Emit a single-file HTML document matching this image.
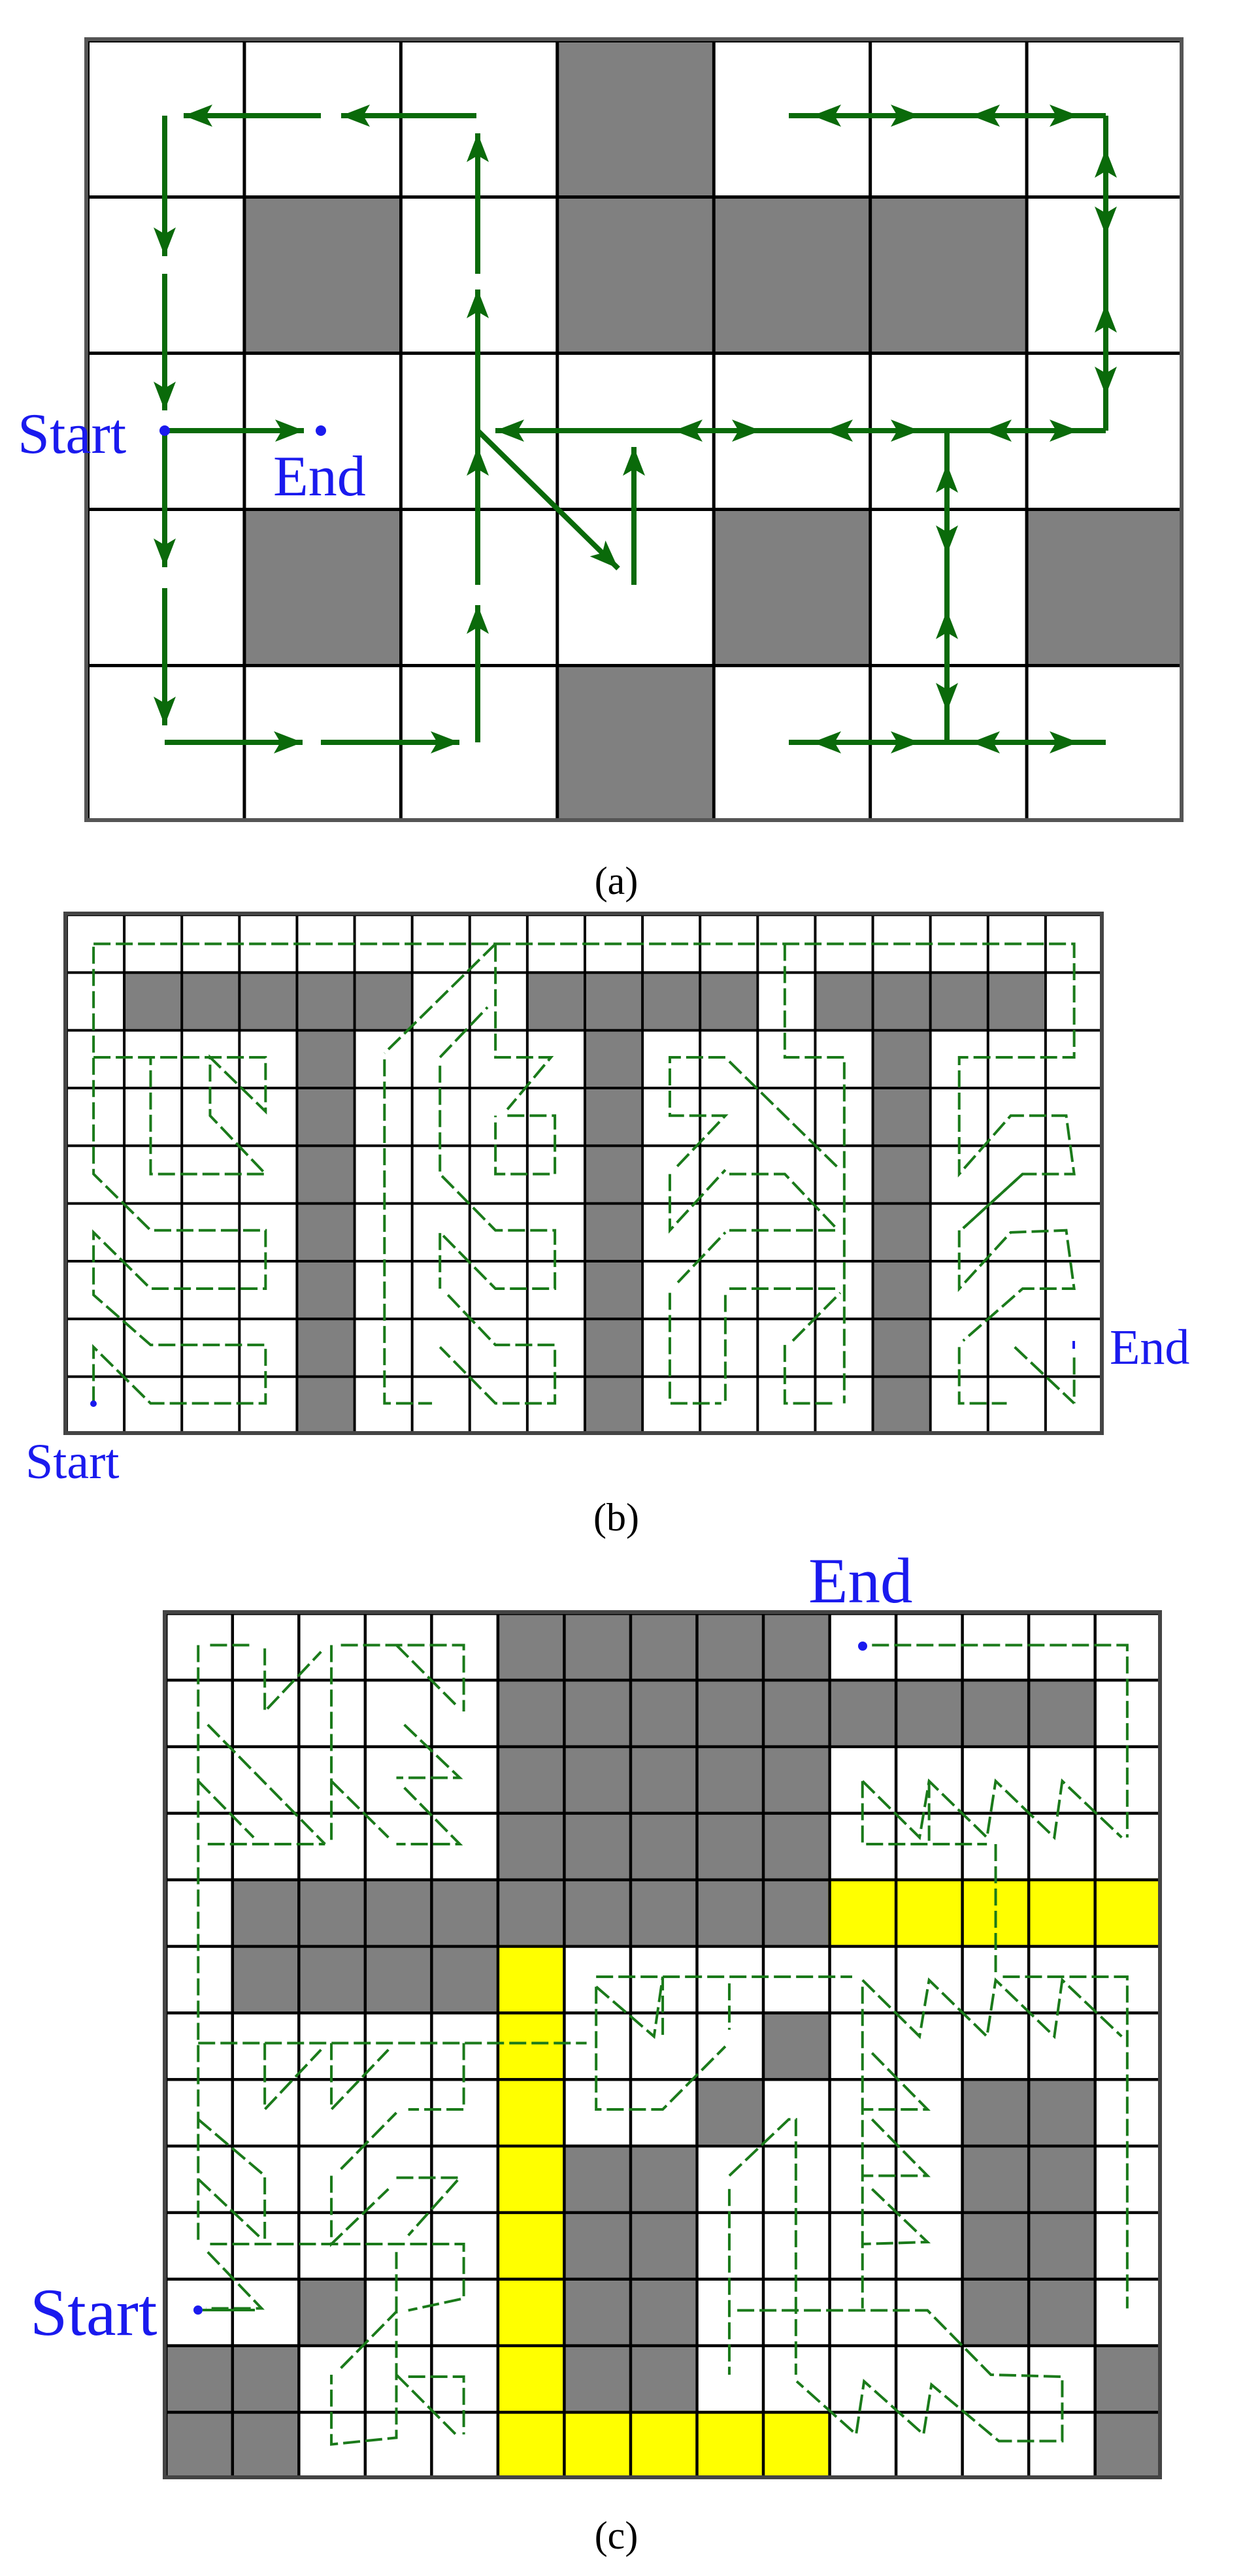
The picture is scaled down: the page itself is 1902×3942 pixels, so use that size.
<!DOCTYPE html>
<html><head><meta charset="utf-8"><style>
html,body{margin:0;padding:0;background:#fff}
svg{display:block}
text{font-family:"Liberation Serif",serif}
</style></head><body>
<svg width="1902" height="3942" viewBox="0 0 1902 3942" xmlns="http://www.w3.org/2000/svg">
<defs>
<pattern id="pa" patternUnits="userSpaceOnUse" x="132" y="60" width="239.43" height="239"><path d="M0,0H239.43M0,0V239" stroke="#000" stroke-width="10" fill="none"/></pattern>
<pattern id="pb" patternUnits="userSpaceOnUse" x="100" y="1398" width="88.11" height="88.33"><path d="M0,0H88.11M0,0V88.33" stroke="#000" stroke-width="8" fill="none"/></pattern>
<pattern id="pc" patternUnits="userSpaceOnUse" x="252" y="2467" width="101.53" height="101.85"><path d="M0,0H101.53M0,0V101.85" stroke="#000" stroke-width="9" fill="none"/></pattern>
<marker id="ah" markerUnits="userSpaceOnUse" markerWidth="50" markerHeight="40" refX="44" refY="17" orient="auto"><path d="M0,0 L44,17 L0,34 L10,17 Z" fill="#0a6a0a"/></marker>
</defs>

<!-- Panel A -->
<g fill="#808080">
<rect x="850.3" y="60" width="239.4" height="239"/>
<rect x="371.4" y="299" width="239.4" height="239"/>
<rect x="850.3" y="299" width="718.3" height="239"/>
<rect x="371.4" y="777" width="239.4" height="239"/>
<rect x="1089.7" y="777" width="239.4" height="239"/>
<rect x="1568.6" y="777" width="239.4" height="239"/>
<rect x="850.3" y="1016" width="239.4" height="239"/>
</g>
<rect x="132" y="60" width="1676" height="1195" fill="url(#pa)"/>
<rect x="132" y="60" width="1676" height="1195" fill="none" stroke="#555" stroke-width="6"/>
<g stroke="#0a6a0a" stroke-width="8" fill="none">
<line x1="729" y1="177" x2="522" y2="177" marker-end="url(#ah)"/>
<line x1="491" y1="177" x2="281" y2="177" marker-end="url(#ah)"/>
<line x1="252" y1="177" x2="252" y2="392" marker-end="url(#ah)"/>
<line x1="252" y1="419" x2="252" y2="628" marker-end="url(#ah)"/>
<line x1="252" y1="659" x2="252" y2="868" marker-end="url(#ah)"/>
<line x1="252" y1="900" x2="252" y2="1110" marker-end="url(#ah)"/>
<line x1="252" y1="659" x2="465" y2="659" marker-end="url(#ah)"/>
<line x1="252" y1="1136" x2="463" y2="1136" marker-end="url(#ah)"/>
<line x1="491" y1="1136" x2="703" y2="1136" marker-end="url(#ah)"/>
<line x1="731" y1="1136" x2="731" y2="926" marker-end="url(#ah)"/>
<line x1="731" y1="895" x2="731" y2="684" marker-end="url(#ah)"/>
<line x1="731" y1="684" x2="731" y2="443" marker-end="url(#ah)"/>
<line x1="731" y1="419" x2="731" y2="204" marker-end="url(#ah)"/>
<line x1="731" y1="659" x2="946" y2="870" marker-end="url(#ah)"/>
<line x1="970" y1="895" x2="970" y2="684" marker-end="url(#ah)"/>
<line x1="758" y1="659" x2="1692" y2="659"/>
<line x1="1692" y1="659" x2="1692" y2="177"/>
<line x1="1207" y1="177" x2="1692" y2="177"/>
<line x1="1449" y1="659" x2="1449" y2="1136"/>
<line x1="1207" y1="1136" x2="1692" y2="1136"/>
<!-- arrowheads on long lines -->
<line x1="800" y1="659" x2="758" y2="659" marker-end="url(#ah)"/>
<line x1="1070" y1="659" x2="1031" y2="659" marker-end="url(#ah)"/>
<line x1="1120" y1="659" x2="1164" y2="659" marker-end="url(#ah)"/>
<line x1="1300" y1="659" x2="1261" y2="659" marker-end="url(#ah)"/>
<line x1="1360" y1="659" x2="1407" y2="659" marker-end="url(#ah)"/>
<line x1="1545" y1="659" x2="1504" y2="659" marker-end="url(#ah)"/>
<line x1="1600" y1="659" x2="1650" y2="659" marker-end="url(#ah)"/>
<line x1="1692" y1="270" x2="1692" y2="228" marker-end="url(#ah)"/>
<line x1="1692" y1="320" x2="1692" y2="360" marker-end="url(#ah)"/>
<line x1="1692" y1="505" x2="1692" y2="465" marker-end="url(#ah)"/>
<line x1="1692" y1="565" x2="1692" y2="605" marker-end="url(#ah)"/>
<line x1="1285" y1="177" x2="1243" y2="177" marker-end="url(#ah)"/>
<line x1="1365" y1="177" x2="1407" y2="177" marker-end="url(#ah)"/>
<line x1="1528" y1="177" x2="1486" y2="177" marker-end="url(#ah)"/>
<line x1="1608" y1="177" x2="1650" y2="177" marker-end="url(#ah)"/>
<line x1="1449" y1="750" x2="1449" y2="710" marker-end="url(#ah)"/>
<line x1="1449" y1="808" x2="1449" y2="848" marker-end="url(#ah)"/>
<line x1="1449" y1="974" x2="1449" y2="934" marker-end="url(#ah)"/>
<line x1="1449" y1="1049" x2="1449" y2="1089" marker-end="url(#ah)"/>
<line x1="1285" y1="1136" x2="1243" y2="1136" marker-end="url(#ah)"/>
<line x1="1365" y1="1136" x2="1407" y2="1136" marker-end="url(#ah)"/>
<line x1="1528" y1="1136" x2="1486" y2="1136" marker-end="url(#ah)"/>
<line x1="1608" y1="1136" x2="1650" y2="1136" marker-end="url(#ah)"/>
</g>
<circle cx="252" cy="659" r="8" fill="#1a1aee"/>
<circle cx="491" cy="659" r="8" fill="#1a1aee"/>
<text x="27" y="693" font-size="88" fill="#1a1aee">Start</text>
<text x="418" y="758" font-size="88" fill="#1a1aee">End</text>
<text x="943" y="1368" font-size="60" text-anchor="middle" fill="#000">(a)</text>

<!-- Panel B -->
<g fill="#808080">
<rect x="188.1" y="1486.3" width="440.6" height="88.4"/>
<rect x="804.9" y="1486.3" width="352.4" height="88.4"/>
<rect x="1245.4" y="1486.3" width="352.4" height="88.4"/>
<rect x="452.4" y="1574.7" width="88.1" height="618.3"/>
<rect x="893" y="1574.7" width="88.1" height="618.3"/>
<rect x="1333.5" y="1574.7" width="88.1" height="618.3"/>
</g>
<rect x="100" y="1398" width="1586" height="795" fill="url(#pb)"/>
<rect x="100" y="1398" width="1586" height="795" fill="none" stroke="#444" stroke-width="6"/>
<g transform="translate(0,1350) scale(1.213,0.638)" fill="none" stroke="#1a7a1a" stroke-width="4" stroke-dasharray="26 8" vector-effect="non-scaling-stroke">
<polyline vector-effect="non-scaling-stroke" points="118,148 1355,148 1355,420 1210,420 1210,700 1275,560 1345,560 1355,700 1290,700 1215,830"/>
<polyline vector-effect="non-scaling-stroke" points="118,1250 118,1115 190,1250 335,1250 335,1110 190,1110 118,990 118,840 190,975 335,975 335,835 190,835 118,700 118,148"/>
<polyline vector-effect="non-scaling-stroke" points="118,420 335,420 335,550 265,420 265,560 335,700 190,700 190,420"/>
<polyline vector-effect="non-scaling-stroke" points="625,148 485,410"/>
<polyline vector-effect="non-scaling-stroke" points="485,425 485,1250 545,1250"/>
<polyline vector-effect="non-scaling-stroke" points="555,420 615,300"/>
<polyline vector-effect="non-scaling-stroke" points="625,150 625,420 695,420 640,545"/>
<polyline vector-effect="non-scaling-stroke" points="640,560 700,560 700,700 625,700 625,560"/>
<polyline vector-effect="non-scaling-stroke" points="555,440 555,700 625,835 700,835 700,975 625,975 555,840 555,975"/>
<polyline vector-effect="non-scaling-stroke" points="565,990 625,1110 700,1110 700,1250 625,1250 555,1115"/>
<polyline vector-effect="non-scaling-stroke" points="990,148 990,420 1065,420 1065,1250"/>
<polyline vector-effect="non-scaling-stroke" points="915,420 845,420 845,560 915,560 850,690"/>
<polyline vector-effect="non-scaling-stroke" points="920,430 1060,690"/>
<polyline vector-effect="non-scaling-stroke" points="845,700 845,835 915,690"/>
<polyline vector-effect="non-scaling-stroke" points="920,700 990,700 1055,830"/>
<polyline vector-effect="non-scaling-stroke" points="920,835 1060,835"/>
<polyline vector-effect="non-scaling-stroke" points="855,960 915,840"/>
<polyline vector-effect="non-scaling-stroke" points="920,975 1055,975"/>
<polyline vector-effect="non-scaling-stroke" points="1000,1100 1060,985"/>
<polyline vector-effect="non-scaling-stroke" points="845,985 845,1250 910,1250"/>
<polyline vector-effect="non-scaling-stroke" points="915,990 915,1250"/>
<polyline vector-effect="non-scaling-stroke" points="990,1110 990,1250 1050,1250"/>
<polyline vector-effect="non-scaling-stroke" points="1210,835 1210,975 1275,840 1345,835 1355,975 1290,975 1215,1100"/>
<polyline vector-effect="non-scaling-stroke" points="1210,1115 1210,1250 1270,1250"/>
<polyline vector-effect="non-scaling-stroke" points="1280,1115 1355,1250"/>
<polyline vector-effect="non-scaling-stroke" points="1355,1140 1355,1250"/>
<polyline vector-effect="non-scaling-stroke" points="1290,700 1215,830"/>
</g>
<circle cx="143" cy="2148" r="5" fill="#1a1aee"/>
<rect x="1641" y="2052" width="4" height="12" fill="#1a1aee"/>
<text x="39" y="2262" font-size="76" fill="#1a1aee">Start</text>
<text x="1698" y="2087" font-size="76" fill="#1a1aee">End</text>
<text x="943" y="2342" font-size="60" text-anchor="middle" fill="#000">(b)</text>

<!-- Panel C -->
<g fill="#808080">
<rect x="759.7" y="2467" width="507.6" height="407.4"/>
<rect x="1267.3" y="2568.9" width="406.1" height="101.85"/>
<rect x="353.5" y="2874.4" width="913.8" height="101.9"/>
<rect x="353.5" y="2976.3" width="406.2" height="101.8"/>
<rect x="1165.8" y="3078.1" width="101.5" height="101.9"/>
<rect x="1064.2" y="3180" width="101.6" height="101.8"/>
<rect x="1470.4" y="3180" width="203" height="407.4"/>
<rect x="861.2" y="3281.8" width="203" height="407.4"/>
<rect x="455.1" y="3485.5" width="101.5" height="101.9"/>
<rect x="252" y="3587.4" width="203" height="203.6"/>
<rect x="1673.4" y="3587.4" width="101.6" height="203.6"/>
</g>
<g fill="#ffff00">
<rect x="1267.3" y="2874.4" width="507.7" height="101.9"/>
<rect x="759.7" y="2976.3" width="101.5" height="814.7"/>
<rect x="861.2" y="3689.2" width="406.1" height="101.8"/>
</g>
<rect x="252" y="2467" width="1523" height="1324" fill="url(#pc)"/>
<rect x="252" y="2467" width="1523" height="1324" fill="none" stroke="#444" stroke-width="6"/>
<g transform="translate(0,2350) scale(1.213,1.015)" fill="none" stroke="#1a7a1a" stroke-width="4" stroke-dasharray="26 8">
<polyline vector-effect="non-scaling-stroke" points="1100,165 1422,165 1422,455"/>
<polyline vector-effect="non-scaling-stroke" points="1088,370 1160,455 1172,370 1245,455 1256,370 1330,455 1340,370 1415,455"/>
<polyline vector-effect="non-scaling-stroke" points="1088,370 1088,465 1245,465"/>
<polyline vector-effect="non-scaling-stroke" points="1172,370 1172,460"/>
<polyline vector-effect="non-scaling-stroke" points="1256,465 1256,665"/>
<polyline vector-effect="non-scaling-stroke" points="752,665 1075,665"/>
<polyline vector-effect="non-scaling-stroke" points="1265,665 1422,665 1422,1165"/>
<polyline vector-effect="non-scaling-stroke" points="1088,670 1160,755 1172,670 1245,755 1256,670 1330,755 1340,670 1415,755"/>
<polyline vector-effect="non-scaling-stroke" points="250,765 740,765"/>
<polyline vector-effect="non-scaling-stroke" points="250,165 250,1065"/>
<polyline vector-effect="non-scaling-stroke" points="265,165 320,165"/>
<polyline vector-effect="non-scaling-stroke" points="334,170 334,265 405,175"/>
<polyline vector-effect="non-scaling-stroke" points="418,165 418,465"/>
<polyline vector-effect="non-scaling-stroke" points="430,165 585,165 585,265"/>
<polyline vector-effect="non-scaling-stroke" points="500,165 575,255"/>
<polyline vector-effect="non-scaling-stroke" points="262,285 410,465"/>
<polyline vector-effect="non-scaling-stroke" points="250,370 320,455"/>
<polyline vector-effect="non-scaling-stroke" points="262,465 410,465"/>
<polyline vector-effect="non-scaling-stroke" points="418,370 490,455"/>
<polyline vector-effect="non-scaling-stroke" points="510,285 580,365 500,365"/>
<polyline vector-effect="non-scaling-stroke" points="510,380 580,465 500,465"/>
<polyline vector-effect="non-scaling-stroke" points="334,765 334,865 405,775"/>
<polyline vector-effect="non-scaling-stroke" points="418,765 418,865 490,775"/>
<polyline vector-effect="non-scaling-stroke" points="585,765 585,865 515,865"/>
<polyline vector-effect="non-scaling-stroke" points="430,955 500,870"/>
<polyline vector-effect="non-scaling-stroke" points="250,880 334,965 334,1060"/>
<polyline vector-effect="non-scaling-stroke" points="250,970 330,1060"/>
<polyline vector-effect="non-scaling-stroke" points="265,1068 585,1068 585,1150 515,1168"/>
<polyline vector-effect="non-scaling-stroke" points="418,965 418,1068 490,985"/>
<polyline vector-effect="non-scaling-stroke" points="500,968 580,968 515,1055"/>
<polyline vector-effect="non-scaling-stroke" points="262,1080 330,1165 260,1165"/>
<polyline vector-effect="non-scaling-stroke" points="500,1080 500,1360 418,1370 418,1265"/>
<polyline vector-effect="non-scaling-stroke" points="430,1255 500,1170"/>
<polyline vector-effect="non-scaling-stroke" points="500,1265 575,1355"/>
<polyline vector-effect="non-scaling-stroke" points="515,1268 585,1268 585,1355"/>
<polyline vector-effect="non-scaling-stroke" points="752,680 825,755 836,665 836,755"/>
<polyline vector-effect="non-scaling-stroke" points="920,675 920,745"/>
<polyline vector-effect="non-scaling-stroke" points="752,680 752,865 836,865 915,770"/>
<polyline vector-effect="non-scaling-stroke" points="920,965 995,880 1004,880 1004,1265"/>
<polyline vector-effect="non-scaling-stroke" points="920,985 920,1265"/>
<polyline vector-effect="non-scaling-stroke" points="930,1168 1170,1168 1250,1265 1340,1268 1340,1365 1260,1365 1175,1280 1165,1355 1090,1275 1080,1355 1005,1275"/>
<polyline vector-effect="non-scaling-stroke" points="1088,680 1088,1165"/>
<polyline vector-effect="non-scaling-stroke" points="1100,780 1170,865 1088,865"/>
<polyline vector-effect="non-scaling-stroke" points="1100,880 1170,965 1088,965"/>
<polyline vector-effect="non-scaling-stroke" points="1100,985 1170,1065 1088,1068"/>
</g>
<circle cx="1320" cy="2519" r="7" fill="#1a1aee"/>
<circle cx="303" cy="3535" r="7" fill="#1a1aee"/>
<line x1="310" y1="3535" x2="390" y2="3535" stroke="#1a7a1a" stroke-width="4"/>
<text x="1237" y="2452" font-size="99" fill="#1a1aee">End</text>
<text x="46" y="3573" font-size="103" fill="#1a1aee">Start</text>
<text x="943" y="3900" font-size="60" text-anchor="middle" fill="#000">(c)</text>
</svg>
</body></html>
